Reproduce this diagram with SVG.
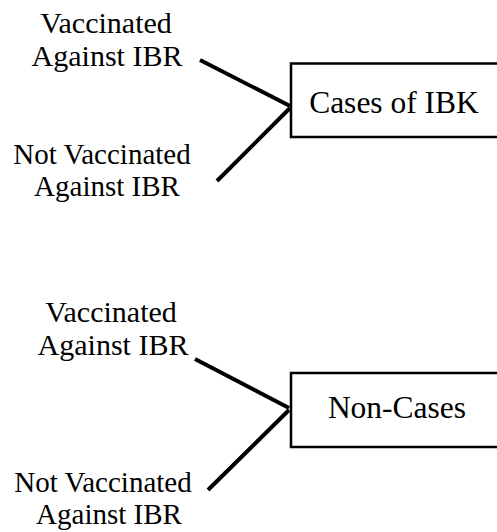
<svg xmlns="http://www.w3.org/2000/svg" width="497" height="532" viewBox="0 0 497 532">
<style>
text{font-family:"Liberation Serif","Times New Roman",serif;fill:#000;text-anchor:middle}
.lbl{font-size:30px}
.tight{font-size:29px}
.box{font-size:31.5px}
.node{fill:#fff;stroke:#000;stroke-width:2.5}
line{stroke:#000;stroke-width:4;stroke-linecap:butt}
</style>
<rect width="497" height="532" fill="#fff"/>
<g id="connectors">
<line x1="200" y1="60" x2="290" y2="106"/>
<line x1="290" y1="108" x2="217" y2="181"/>
<line x1="195" y1="359" x2="289" y2="408"/>
<line x1="289" y1="410" x2="208" y2="490"/>
</g>
<g id="vacc1"><text class="lbl" x="106" y="33">Vaccinated</text><text class="lbl" x="107" y="66">Against IBR</text></g>
<g id="notvacc1"><text class="tight" x="102" y="164">Not Vaccinated</text><text class="tight" x="107" y="196">Against IBR</text></g>
<g id="cases"><rect class="node" x="291" y="63.5" width="220" height="73.5"/><text class="box" x="394" y="113">Cases of IBK</text></g>
<g id="vacc2"><text class="lbl" x="111" y="322">Vaccinated</text><text class="lbl" x="113" y="355">Against IBR</text></g>
<g id="notvacc2"><text class="tight" x="103" y="492">Not Vaccinated</text><text class="tight" x="109" y="524">Against IBR</text></g>
<g id="noncases"><rect class="node" x="291" y="373" width="220" height="74"/><text class="box" x="397" y="418">Non-Cases</text></g>
</svg>
